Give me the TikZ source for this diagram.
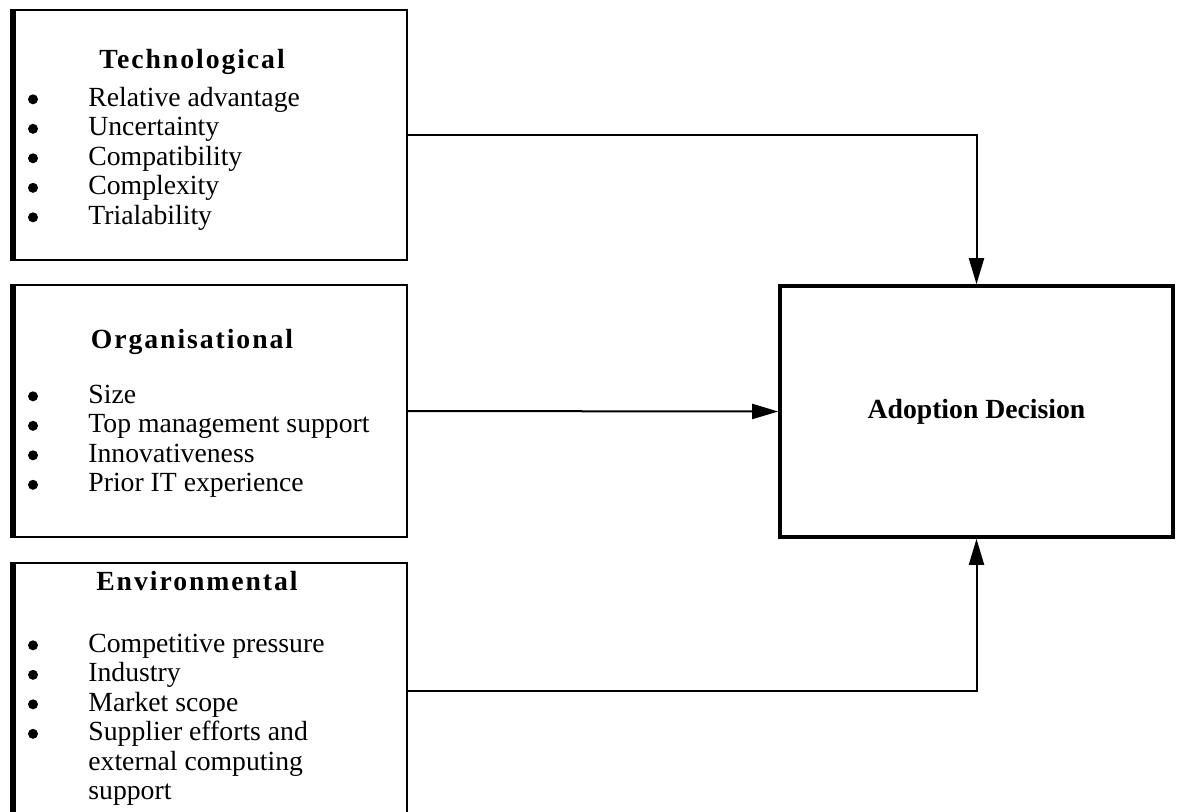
\documentclass[tikz,border=0pt]{standalone}
\usepackage{fontspec}
\setmainfont{Liberation Serif}
\newfontfamily\hdrfont[LetterSpace=7]{Liberation Serif}
\usetikzlibrary{arrows.meta,calc}
\newcommand{\itemfont}{\fontsize{13.85}{14.75}\selectfont}

\begin{document}
\begin{tikzpicture}[x=0.5pt,y=-0.5pt,
  factor/.style = {draw, line width=1.1pt, minimum width=196.5pt, inner sep=0pt},
  outcome/.style = {draw, line width=1.8pt, minimum width=196.5pt, minimum height=125.5pt, font=\itemfont\bfseries},
  hdr/.style = {anchor=base, inner sep=0pt, font=\hdrfont\bfseries\itemfont},
  lst/.style = {anchor=base west, inner sep=0pt, font=\itemfont},
  arr/.style = {line width=1pt, -{Triangle[length=13pt,width=7.5pt]}}]
\useasboundingbox (0,0) rectangle (1183,811);
\clip (0,0) rectangle (1183,811);
% factor boxes
\node[factor, minimum height=125pt] (tech) at (210.5,135) {};
\node[factor, minimum height=126pt] (org) at (210.5,411) {};
\node[factor, minimum height=133.5pt] (env) at (210.5,696.5) {};
\node[outcome] (adopt) at (976.5,411.5) {Adoption Decision};
% heavy left edges
\foreach \b in {tech,org,env}
  \path[draw, line width=2.6pt] (\b.north west) to (\b.south west);
% titles
\node[hdr] (techT) at (192,68) {Technological};
\node[hdr] (orgT) at (192,348) {Organisational};
\node[hdr] (envT) at (197,590) {Environmental};
% item lists
\node[lst] (techL) at (88,106) {\begin{tabular}[t]{@{}l@{}}
  Relative advantage\\ Uncertainty\\ Compatibility\\ Complexity\\ Trialability
\end{tabular}};
\node[lst] (orgL) at (88,403) {\begin{tabular}[t]{@{}l@{}}
  Size\\ Top management support\\ Innovativeness\\ Prior IT experience
\end{tabular}};
\node[lst] (envL) at (88,652) {\begin{tabular}[t]{@{}l@{}}
  Competitive pressure\\ Industry\\ Market scope\\
  Supplier efforts and\\ external computing\\ support
\end{tabular}};
% bullets
\foreach \y/\k in {106/4, 403/3, 652/3}
  \foreach \n in {0,...,\k}
    \fill (33,{\y-6.7+29.5*\n}) circle (2.5pt);
% links
\path[draw, arr] (tech.east) -| (adopt.north);
\path[draw, arr] (org.east) to (adopt.west);
\path[draw, arr] ([yshift=3pt]env.east) -| (adopt.south);
\end{tikzpicture}
\end{document}
